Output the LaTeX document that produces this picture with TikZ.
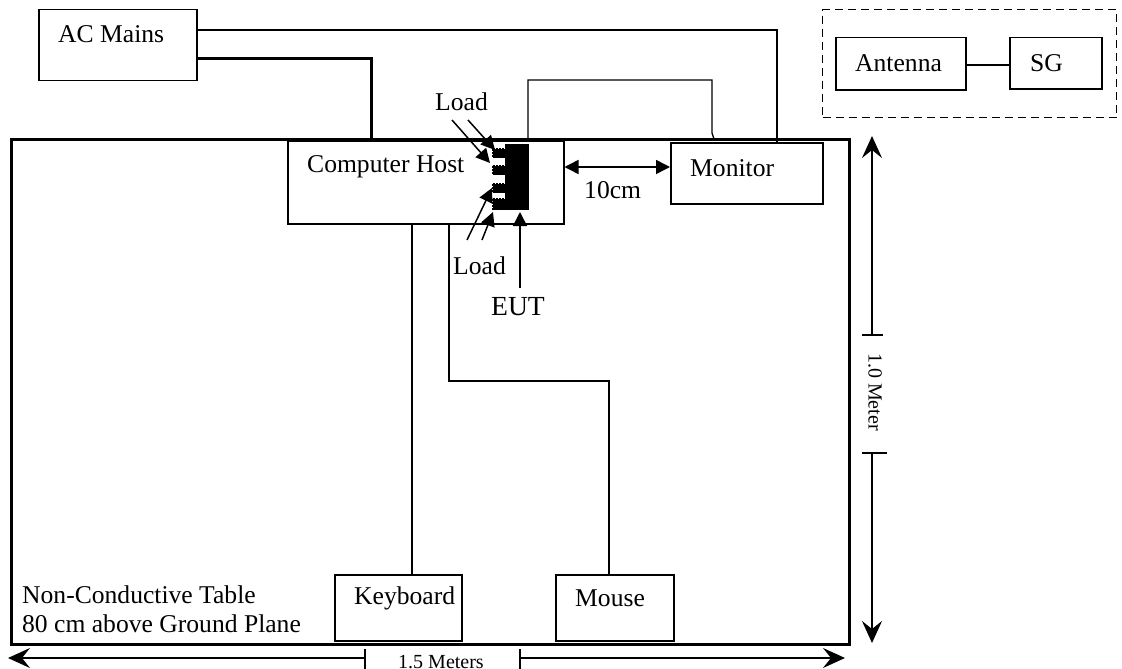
\documentclass[tikz,border=0pt]{standalone}
\usepackage{fontspec}
\setmainfont{Liberation Serif}
\usetikzlibrary{arrows.meta}
\tikzset{
 x=1pt,y=-1pt,
 box/.style={draw,line width=1.5pt,fill=white,inner sep=0pt,anchor=north west},
 lbl/.style={inner sep=0pt,anchor=west,font=\fontsize{25.6}{30}\selectfont},
 wire/.style={line width=1.4pt},
 heavy/.style={line width=3pt},
 tip/.style={line width=1.5pt,-{Triangle[length=14pt,width=14pt]}},
 both/.style={line width=1.5pt,{Triangle[length=14pt,width=14pt]}-{Triangle[length=14pt,width=14pt]}},
 dim/.style={line width=1.4pt,-{Stealth[length=22pt,width=20pt,inset=8pt]}},
}
\begin{document}
\begin{tikzpicture}
\useasboundingbox (0,0) rectangle (1122,669);
% table
\node[draw,line width=3pt,minimum width=838pt,minimum height=505pt,anchor=north west,inner sep=0pt] (table) at (10,138) {};
% AC and wires
\node[box,minimum width=158pt,minimum height=71pt] (ac) at (38,9) {};
\node[lbl] (actext) at (58,34) {AC Mains};
\node[box,minimum width=276pt,minimum height=83pt] (host) at (287,140) {};
\node[lbl] (hosttext) at (307,167) {Computer Host};
\node[box,minimum width=152pt,minimum height=61pt] (mon) at (670,142) {};
\node[lbl] (montext) at (690,168) {Monitor};
\coordinate (w1) at (777,142);
\draw[wire] (ac.east |- 0,30) -- (777,30) -- (w1);
\coordinate (w2) at (371,140);
\draw[heavy] (ac.east |- 0,59) -- (371,59) -- (w2);
\coordinate (l1) at (528,140);
\coordinate (l2) at (714,139);
\draw[wire] (l1) -- (528,80) -- (712,80) -- (712,133) -- (l2);
% EUT
\node[fill=black,minimum width=24pt,minimum height=66pt,inner sep=0pt,anchor=north west] (eut) at (505,144) {};
\foreach \n/\y/\h in {a/148/10,b/165/10,c/183/10,d/198/12}{
 \node[fill=black,minimum width=14pt,minimum height=\h pt,inner sep=0pt,anchor=north west] (p\n) at (492,\y) {};
 \draw[white,line width=1pt,dotted] (492,\y) -- +(13,0);
 \draw[white,line width=1pt,dotted] (492,\y) -- +(0,\h);
}
% labels and arrows
\node[lbl] (load1) at (435,102) {Load};
\node[lbl] (load2) at (453,266) {Load};
\node[lbl,font=\fontsize{27.6}{32}\selectfont] (euttext) at (491,307) {EUT};
\coordinate (la1) at (452,120);
\coordinate (la2) at (468,120);
\coordinate (lb1) at (467,240);
\coordinate (lb2) at (482,240);
\coordinate (ta1) at (490,163);
\coordinate (ta2) at (495,150);
\coordinate (tb1) at (492,188);
\coordinate (tb2) at (493,212);
\draw[tip] (la1) -- (ta1);
\draw[tip] (la2) -- (ta2);
\draw[tip] (lb1) -- (tb1);
\draw[tip] (lb2) -- (tb2);
\coordinate (e1) at (520,288);
\draw[tip] (e1) -- (520,212);
\draw[both] (host.east |- 0,167) -- (mon.west |- 0,167);
\node[lbl] (tencm) at (584,190) {10cm};
% cables
\node[box,minimum width=127pt,minimum height=66pt] (kb) at (334,574) {};
\node[lbl] (kbtext) at (354,598) {Keyboard};
\node[box,minimum width=118pt,minimum height=66pt] (mouse) at (555,574) {};
\node[lbl] (mousetext) at (575,598) {Mouse};
\draw[wire] (412,223) -- (412,574);
\draw[wire] (449,223) -- (449,381) -- (609,381) -- (609,574);
\node[lbl] (t1) at (22,595) {Non-Conductive Table};
\node[lbl] (t2) at (22,624) {80 cm above Ground Plane};
% dashed box
\node[draw,line width=1.4pt,dash pattern=on 8pt off 5pt,minimum width=294pt,minimum height=108pt,anchor=north west,inner sep=0pt] (dash) at (822,9) {};
\node[box,minimum width=130pt,minimum height=52pt] (ant) at (835,37) {};
\node[lbl] (anttext) at (855,63) {Antenna};
\node[box,minimum width=92pt,minimum height=51pt] (sg) at (1009,37) {};
\node[lbl] (sgtext) at (1030,63) {SG};
\draw[wire] (ant.east |- 0,65) -- (sg.west |- 0,65);
% dims
\coordinate (v1) at (872,335);
\coordinate (v2) at (872,453);
\coordinate (vt1) at (872,136);
\coordinate (vt2) at (872,643);
\draw[dim] (v1) -- (vt1);
\draw[dim] (v2) -- (vt2);
\draw[wire] (862,335) -- (883,335);
\draw[wire] (862,453) -- (887,453);
\node[inner sep=0pt,rotate=-90,font=\fontsize{20}{24}\selectfont] (vt) at (875,392) {1.0 Meter};
\coordinate (h1) at (365,658);
\coordinate (h2) at (520,658);
\coordinate (ht1) at (8,658);
\coordinate (ht2) at (845,658);
\draw[dim] (h1) -- (ht1);
\draw[dim] (h2) -- (ht2);
\draw[wire] (365,649) -- (365,669);
\draw[wire] (520,649) -- (520,669);
\node[inner sep=0pt,font=\fontsize{20}{24}\selectfont] (ht) at (441,662) {1.5 Meters};
\end{tikzpicture}
\end{document}
